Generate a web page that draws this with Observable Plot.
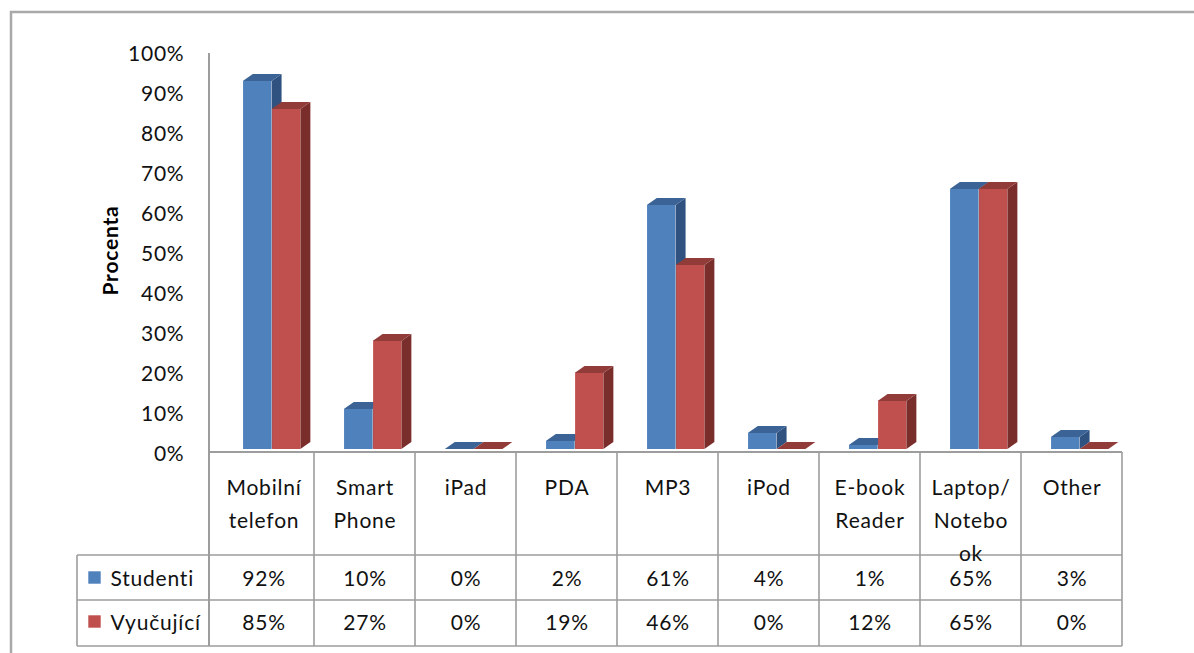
<!DOCTYPE html>
<html>
<head>
<meta charset="utf-8">
<script src="https://cdn.jsdelivr.net/npm/d3@7"></script>
<script src="https://cdn.jsdelivr.net/npm/@observablehq/plot@0.6"></script>
<style>
  html, body { margin: 0; padding: 0; background: #fff; }
  #chart svg { display: block; }
</style>
</head>
<body>
<div id="chart"></div>
<script>
// ---- data ----
const categories = ["Mobilní telefon", "Smart Phone", "iPad", "PDA", "MP3", "iPod", "E-book Reader", "Laptop/ Notebook", "Other"];
const categoryLabels = ["Mobilní\ntelefon", "Smart\nPhone", "iPad", "PDA", "MP3", "iPod", "E-book\nReader", "Laptop/\nNotebo\nok", "Other"];
const seriesNames = ["Studenti", "Vyučující"];
const studenti = [0.92, 0.10, 0.00, 0.02, 0.61, 0.04, 0.01, 0.65, 0.03];
const vyucujici = [0.85, 0.27, 0.00, 0.19, 0.46, 0.00, 0.12, 0.65, 0.00];
const yTicks = [0, 0.1, 0.2, 0.3, 0.4, 0.5, 0.6, 0.7, 0.8, 0.9, 1.0];
const yTitle = "Procenta";

// ---- style ----
const FONT = "Lato, 'Open Sans', sans-serif";
const FS = 21;
const colors = {
  Studenti: {front: "#4f81bd", side: "#2f5280", top: "#3b6396"},
  "Vyučující": {front: "#c0504d", side: "#7a2e2c", top: "#923c39"}
};
const GRID = "#9d9d9d";
const TXT = "#111";
const fmt = d3.format(".0%");

const rows = categories.map((c, i) => ({cat: c, label: categoryLabels[i], Studenti: studenti[i], "Vyučující": vyucujici[i]}));

const W = 1194, H = 653;
const mL = 209, mR = 68, mT = 49, mB = 204;
const BAR_START = [0.295, 0.58];  // fraction of band where each series' front face starts
const BAR_W = 0.285;               // fraction of band
const DX = 10, DY = 7;             // 3D depth

function bandW(x) { return x.bandwidth ? x.bandwidth() : (x(categories[1]) - x(categories[0])); }

// side and top faces of the 3D columns, computed from the scales
function depthFaces(key, k) {
  return (index, scales) => {
    const {x, y} = scales;
    const bw = bandW(x);
    const g = d3.create("svg:g");
    rows.forEach(r => {
      const x0 = x(r.cat) + bw * BAR_START[k];
      const w = bw * BAR_W;
      const yb = y(0), yt = y(r[key]);
      g.append("path")
        .attr("d", `M${x0 + w},${yt}L${x0 + w + DX},${yt - DY}L${x0 + w + DX},${yb - DY}L${x0 + w},${yb}Z`)
        .attr("fill", colors[key].side);
      g.append("path")
        .attr("d", `M${x0},${yt}L${x0 + DX},${yt - DY}L${x0 + w + DX},${yt - DY}L${x0 + w},${yt}Z`)
        .attr("fill", colors[key].top);
    });
    return g.node();
  };
}

// data table grid, outer border and value axis line
function tableGrid(index, scales, values, dims) {
  const {x} = scales;
  const bw = bandW(x);
  const g = d3.create("svg:g").attr("stroke", GRID).attr("fill", "none");
  const left = dims.marginLeft;
  const right = x(categories[categories.length - 1]) + bw;
  const base = dims.height - dims.marginBottom;
  const floor = base + 3, r1 = base + 106, r2 = base + 151, r3 = base + 197;
  const labelLeft = left - 132;
  const edges = categories.map(c => x(c)).concat([right]);
  // outer chart-area border (top & left)
  g.append("path").attr("d", `M11,${H}V12H${W}`).attr("stroke", "#a9a9a9").attr("stroke-width", 2.5);
  // axis line
  g.append("path").attr("d", `M${left},${dims.marginTop + 4}V${r3}`).attr("stroke-width", 2);
  edges.slice(1).forEach(e => g.append("path").attr("d", `M${e},${floor}V${r3}`).attr("stroke-width", 1.6));
  g.append("path").attr("d", `M${left},${floor}H${right}`).attr("stroke-width", 2);
  [r1, r2, r3].forEach(yy => g.append("path").attr("d", `M${labelLeft},${yy}H${right}`).attr("stroke-width", 1.6));
  g.append("path").attr("d", `M${labelLeft},${r1}V${r3}`).attr("stroke-width", 1.6);
  return g.node();
}

const frontBar = (key, k) => Plot.barY(rows, {
  x: "cat", y: key, fill: colors[key].front,
  insetLeft: 101.9 * BAR_START[k],
  insetRight: 101.9 * (1 - BAR_START[k] - BAR_W)
});

const cellText = (text, dy) => Plot.text(rows, {
  x: "cat", text, frameAnchor: "bottom", lineAnchor: "middle", textAnchor: "middle",
  dy, fontSize: FS, fill: TXT
});

const chart = Plot.plot({
  width: W, height: H,
  marginLeft: mL, marginRight: mR, marginTop: mT, marginBottom: mB,
  style: {fontFamily: FONT, background: "#fff", overflow: "visible", letterSpacing: "0.8px"},
  x: {type: "band", domain: categories, padding: 0, axis: null},
  y: {domain: [0, 1], axis: null},
  marks: [
    tableGrid,
    depthFaces("Studenti", 0),
    frontBar("Studenti", 0),
    depthFaces("Vyučující", 1),
    frontBar("Vyučující", 1),
    // value axis tick labels
    Plot.text(yTicks, {y: d => d, text: d => fmt(d), frameAnchor: "left", textAnchor: "end", lineAnchor: "middle", dx: -25, dy: 5, fontSize: FS, fill: TXT}),
    // axis title
    Plot.text([yTitle], {text: d => d, frameAnchor: "left", textAnchor: "middle", lineAnchor: "middle", rotate: -90, dx: -98, dy: 1, fontSize: 21, fontWeight: "bold", fill: "#000"}),
    // category header row
    Plot.text(rows, {x: "cat", text: "label", frameAnchor: "bottom", lineAnchor: "top", textAnchor: "middle", dy: 22, lineHeight: 33 / FS, fontSize: FS, fill: TXT}),
    // data rows
    cellText(d => fmt(d.Studenti), 130),
    cellText(d => fmt(d["Vyučující"]), 174),
    // row labels with legend keys
    Plot.text([seriesNames[0]], {text: d => d, frameAnchor: "bottom-left", textAnchor: "start", lineAnchor: "middle", dx: -99, dy: 130, fontSize: FS, fill: TXT}),
    Plot.text([seriesNames[1]], {text: d => d, frameAnchor: "bottom-left", textAnchor: "start", lineAnchor: "middle", dx: -99, dy: 174, fontSize: FS, fill: TXT}),
    Plot.dot([seriesNames[0]], {frameAnchor: "bottom-left", dx: -115, dy: 128, symbol: "square", r: 7, fill: colors.Studenti.front}),
    Plot.dot([seriesNames[1]], {frameAnchor: "bottom-left", dx: -115, dy: 172, symbol: "square", r: 7, fill: colors["Vyučující"].front})
  ]
});
document.getElementById("chart").appendChild(chart);
</script>
</body>
</html>
